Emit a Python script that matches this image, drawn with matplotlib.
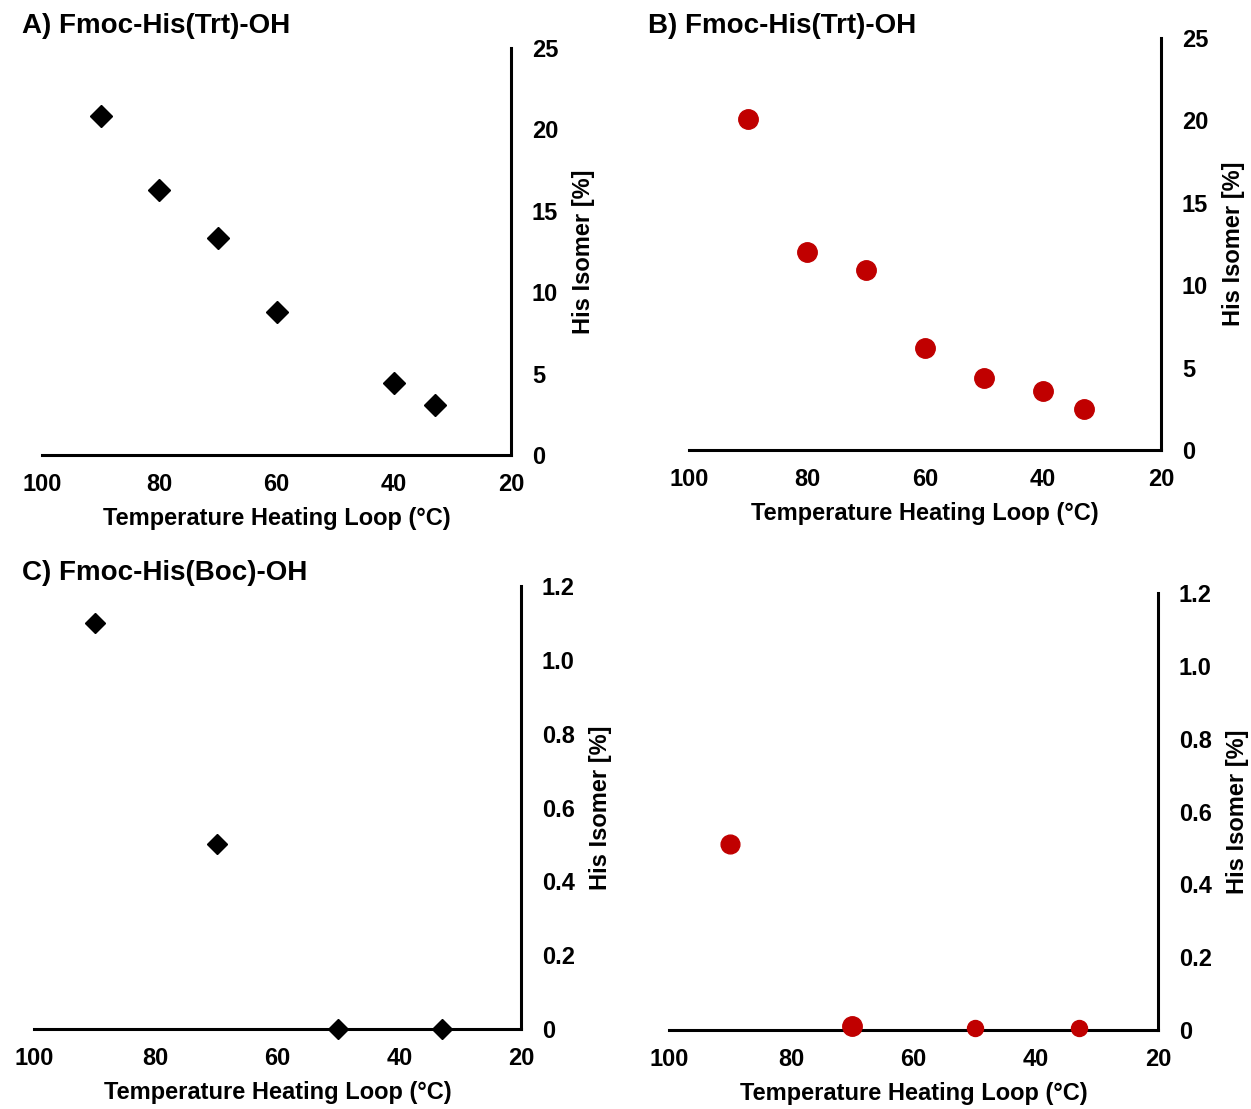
import numpy as np
import matplotlib.pyplot as plt

# Panel data (temperature of heating loop in degC, His isomer in %)
temp_a = [90, 80, 70, 60, 40, 33]
iso_a = [20.8, 16.3, 13.3, 8.8, 4.4, 3.1]

temp_b = [90, 80, 70, 60, 50, 40, 33]
iso_b = [20.1, 12.0, 10.9, 6.2, 4.4, 3.6, 2.5]

temp_c = [90, 70, 50, 33]
iso_c = [1.1, 0.5, 0.0, 0.0]

temp_d = [90, 70, 50, 33]
iso_d = [0.51, 0.01, 0.005, 0.005]

x_ticks = [100, 80, 60, 40, 20]
y_ticks_top = [0, 5, 10, 15, 20, 25]
y_ticks_bottom = [0, 0.2, 0.4, 0.6, 0.8, 1.0, 1.2]
y_labels_bottom = ["0", "0.2", "0.4", "0.6", "0.8", "1.0", "1.2"]

titles = ["A) Fmoc-His(Trt)-OH", "B) Fmoc-His(Trt)-OH", "C) Fmoc-His(Boc)-OH", ""]
xlabel = "Temperature Heating Loop (°C)"
ylabel = "His Isomer [%]"

plt.rcParams['font.family'] = ['Liberation Sans', 'DejaVu Sans']
plt.rcParams['font.weight'] = 'bold'

RED = "#C00000"
fig = plt.figure(figsize=(12.51, 11.09), dpi=100)


def style_axes(ax, yticks, ylabels, ylim):
    ax.set_xlim(100, 20)
    ax.set_ylim(*ylim)
    ax.spines['top'].set_visible(False)
    ax.spines['left'].set_visible(False)
    ax.spines['right'].set_linewidth(2.2)
    ax.spines['bottom'].set_linewidth(2.2)
    ax.yaxis.tick_right()
    ax.yaxis.set_label_position('right')
    ax.set_xticks(x_ticks)
    ax.set_xticklabels([str(t) for t in x_ticks])
    ax.set_yticks(yticks)
    ax.set_yticklabels(ylabels)
    ax.tick_params(axis='both', length=0, labelsize=17)
    ax.tick_params(axis='y', pad=15)
    ax.tick_params(axis='x', pad=13)
    for lab in ax.get_xticklabels() + ax.get_yticklabels():
        lab.set_fontweight('bold')
    ax.set_xlabel(xlabel, fontsize=17, fontweight='bold', labelpad=8)
    ax.set_ylabel(ylabel, fontsize=17, fontweight='bold', labelpad=10)
    ax.patch.set_alpha(0)


ax_a = fig.add_axes([0.0336, 0.5897, 0.3749, 0.3670])
ax_b = fig.add_axes([0.5508, 0.5942, 0.3773, 0.3715])
ax_c = fig.add_axes([0.0272, 0.0721, 0.3893, 0.3995])
ax_d = fig.add_axes([0.5348, 0.0712, 0.3909, 0.3940])

top_labels = [str(t) for t in y_ticks_top]
style_axes(ax_a, y_ticks_top, top_labels, (0, 25))
style_axes(ax_b, y_ticks_top, top_labels, (0, 25))
style_axes(ax_c, y_ticks_bottom, y_labels_bottom, (0, 1.2))
style_axes(ax_d, y_ticks_bottom, y_labels_bottom, (0, 1.2))

ax_a.plot(temp_a, iso_a, 'D', color='black', markersize=11, clip_on=False, zorder=3)
ax_b.plot(temp_b, iso_b, 'o', color=RED, markersize=14, clip_on=False, zorder=3)
ax_c.plot(temp_c, iso_c, 'D', color='black', markersize=10.5, clip_on=False, zorder=3)
sizes_d = [13.5, 14, 11.5, 11.5]
for t, v, ms in zip(temp_d, iso_d, sizes_d):
    ax_d.plot([t], [v], 'o', color=RED, markersize=ms, clip_on=False, zorder=3)

# panel titles
fig.text(22 / 1251, 1 - 26 / 1109, titles[0], fontsize=20, fontweight='bold', va='center', ha='left')
fig.text(648 / 1251, 1 - 26 / 1109, titles[1], fontsize=20, fontweight='bold', va='center', ha='left')
fig.text(22 / 1251, 1 - 573 / 1109, titles[2], fontsize=20, fontweight='bold', va='center', ha='left')

plt.savefig("out.png", dpi=100)
